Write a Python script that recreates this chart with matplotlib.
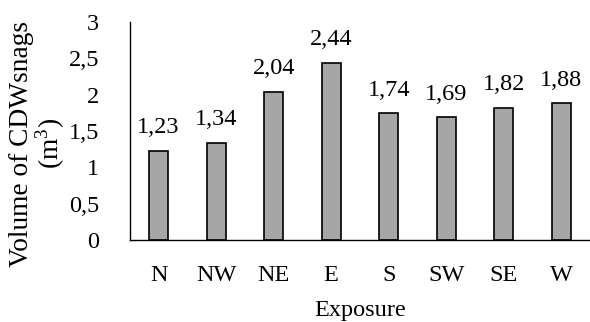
import numpy as np
import matplotlib.pyplot as plt

exposure = ['N', 'NW', 'NE', 'E', 'S', 'SW', 'SE', 'W']
volume = [1.23, 1.34, 2.04, 2.44, 1.74, 1.69, 1.82, 1.88]
yticks = [0, 0.5, 1, 1.5, 2, 2.5, 3]

plt.rcParams['font.family'] = ['Liberation Serif', 'DejaVu Serif']
plt.rcParams['mathtext.fontset'] = 'custom'
plt.rcParams['mathtext.rm'] = 'Liberation Serif'
fs = 17.5

fig = plt.figure(figsize=(5.9, 3.22), dpi=100)
ax = fig.add_axes([0.22, 0.255, 0.78, 0.677])

x = np.arange(len(exposure))
bars = ax.bar(x, volume, width=0.33, color='#a6a6a6', edgecolor='black', linewidth=1.2)

for xi, v in zip(x, volume):
    ax.text(xi, v + 0.17, ('%.2f' % v).replace('.', ','), ha='center', va='bottom', fontsize=fs)

ax.set_xlim(-0.5, len(exposure) - 0.5)
ax.set_ylim(0, 3)
ax.set_xticks(x)
ax.set_xticklabels(exposure, fontsize=fs)
ax.set_yticks(yticks)
ax.set_yticklabels([('%g' % t).replace('.', ',') for t in yticks], fontsize=fs)
ax.tick_params(length=0)
ax.tick_params(axis='x', pad=18)
ax.tick_params(axis='y', pad=22)

for s in ['top', 'right']:
    ax.spines[s].set_visible(False)
for s in ['left', 'bottom']:
    ax.spines[s].set_linewidth(1.0)

ax.set_xlabel('Exposure', fontsize=fs, labelpad=10)
ax.set_ylabel('Volume of CDWsnags\n(m$^3$)', fontsize=19.7, linespacing=0.95)
ax.yaxis.set_label_coords(-0.137, 0.44)

fig.savefig('out.png', dpi=100)
